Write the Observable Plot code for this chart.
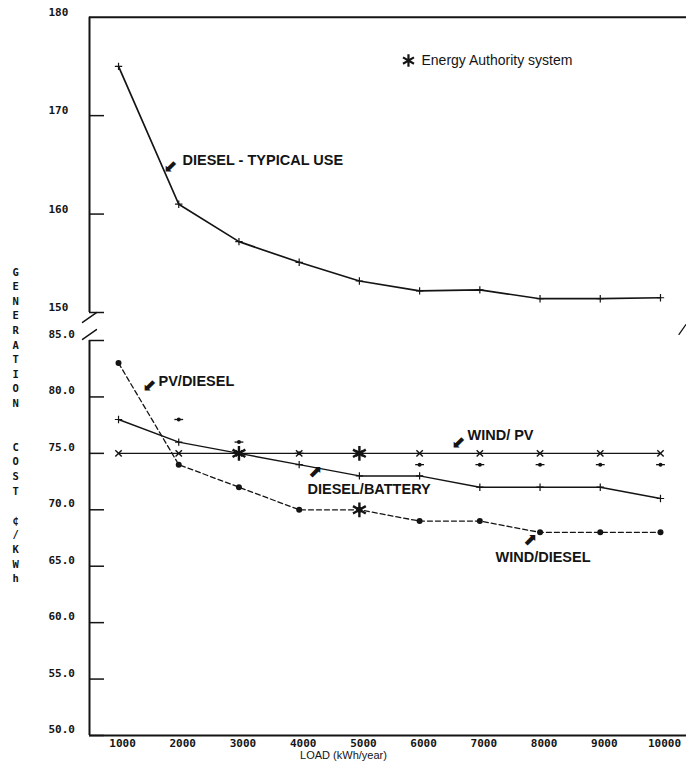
<!DOCTYPE html>
<html>
<head>
<meta charset="utf-8">
<script src="https://cdn.jsdelivr.net/npm/d3@7"></script>
<script src="https://cdn.jsdelivr.net/npm/@observablehq/plot@0.6"></script>
<style>
  html, body { margin: 0; padding: 0; background: #fff; }
  #chart svg { display: block; }
</style>
</head>
<body>
<div id="chart"></div>
<script>
// ---- data ----
const load = [1000, 2000, 3000, 4000, 5000, 6000, 7000, 8000, 9000, 10000];
const dieselTypical = [175, 161, 157.2, 155.1, 153.2, 152.2, 152.3, 151.4, 151.4, 151.5];
const windPV        = [75, 75, 75, 75, 75, 75, 75, 75, 75, 75];
const dieselBattery = [78, 76, 75, 74, 73, 73, 72, 72, 72, 71];
const windDiesel    = [83, 74, 72, 70, 70, 69, 69, 68, 68, 68];
const pvDiesel      = [null, 78, 76, 75, 75, 74, 74, 74, 74, 74];
const energyAuthorityLoad = [3000, 5000, 5000];
const energyAuthorityCost = [75, 75, 70];
const yTicksUpper = [150, 160, 170, 180];
const yTicksLower = [50, 55, 60, 65, 70, 75, 80, 85];
const xTicks = [1000, 2000, 3000, 4000, 5000, 6000, 7000, 8000, 9000, 10000];
const yTitleWords = ["GENERATION", "COST", "¢/KWh"];
const xTitle = "LOAD (kWh/year)";
const legendText = "Energy Authority system";
const seriesLabels = ["DIESEL - TYPICAL USE", "PV/DIESEL", "WIND/ PV", "DIESEL/BATTERY", "WIND/DIESEL"];

// ---- tables built from the arrays ----
const rows = (ys) => load.map((x, i) => ({x, y: ys[i]})).filter(d => d.y != null);
const ea = energyAuthorityLoad.map((x, i) => ({x, y: energyAuthorityCost[i]}));
// vertical stacked title: one letter per line, blank lines between words
const yTitleText = [...yTitleWords[0]].join("\n") + "\n\n\n" + [...yTitleWords[1]].join("\n") + "\n\n" + [...yTitleWords[2]].join("\n");

const xDomain = [518, 10432];
const ink = "#141414";
const tickFont = "DejaVu Sans Mono, monospace";
const labelFont = "Liberation Sans, Arial, sans-serif";

const lineShape = {draw(context, l) { context.moveTo(0, 0); context.lineTo(0, -l); }};
const dashShape = {draw(context, size) { const r = Math.sqrt(size / Math.PI); context.moveTo(-2.2 * r, 0); context.lineTo(2.2 * r, 0); }};

// annotation placement (label anchors in data units)
const labelPos = [
  {x: 2062, y: 165.5},
  {x: 1664, y: 81.4},
  {x: 6795, y: 76.6},
  {x: 4138, y: 71.8},
  {x: 7260, y: 65.8}
];
const labels = seriesLabels.map((text, i) => ({...labelPos[i], text}));
const arrows = [
  {x: 1863, y: 164.8, text: "⬋"},
  {x: 1514, y: 81.0, text: "⬋"},
  {x: 6645, y: 76.0, text: "⬋"},
  {x: 4271, y: 73.4, text: "⬈"},
  {x: 7841, y: 67.4, text: "⬈"}
];

const chart = Plot.plot({
  width: 686,
  height: 768,
  marginLeft: 89,
  marginRight: 0,
  marginTop: 0,
  marginBottom: 33,
  style: {background: "#fff", color: ink, overflow: "visible"},
  x: {domain: xDomain, axis: null},
  y: {type: "linear", domain: [50, 85, 150, 180], range: [735, 340, 312, 16.7], axis: null},
  marks: [
    // frame lines
    Plot.ruleY([180], {stroke: ink, strokeWidth: 2}),
    Plot.ruleY([50], {stroke: ink, strokeWidth: 2}),
    Plot.ruleX([{y1: 150, y2: 180}, {y1: 50, y2: 85.2}], {x: () => xDomain[0], y1: "y1", y2: "y2", stroke: ink, strokeWidth: 2}),
    // inward ticks
    Plot.ruleY([...yTicksUpper.slice(0, 3), ...yTicksLower], {y: d => d, insetRight: 686 - 89 - 15, stroke: ink, strokeWidth: 1.5}),
    // axis-break slashes
    Plot.vector([138.4, 98.9], {x: () => xDomain[0], y: d => d, length: 17, rotate: 55, anchor: "middle", shape: lineShape, stroke: ink, strokeWidth: 1.5}),
    Plot.vector([110.5], {x: () => 10365, y: d => d, length: 12, rotate: 35, anchor: "middle", shape: lineShape, stroke: ink, strokeWidth: 1.3}),
    // tick labels
    Plot.text(yTicksUpper, {y: d => d, text: d => String(d), frameAnchor: "left", textAnchor: "start", dx: -41, dy: -5, fontFamily: tickFont, fontWeight: "bold", fontSize: 11, fill: ink}),
    Plot.text(yTicksLower, {y: d => d, text: d => d.toFixed(1), frameAnchor: "left", textAnchor: "start", dx: -41, dy: -6, fontFamily: tickFont, fontWeight: "bold", fontSize: 11, fill: ink}),
    Plot.text(xTicks, {x: d => d, text: d => String(d), frameAnchor: "bottom", dy: 11, dx: 4, fontFamily: tickFont, fontWeight: "bold", fontSize: 11, fill: ink}),
    Plot.text([xTitle], {x: () => 4736, frameAnchor: "bottom", dy: 23, text: d => d, fontFamily: labelFont, fontSize: 11, fill: ink}),
    Plot.text([yTitleText], {y: () => 154.8, frameAnchor: "left", dx: -77, lineAnchor: "top", lineHeight: 1.39, text: d => d, fontFamily: tickFont, fontWeight: "bold", fontSize: 10.5, fill: ink}),
    // series
    Plot.line(rows(dieselTypical), {x: "x", y: "y", stroke: ink, strokeWidth: 1.7}),
    Plot.dot(rows(dieselTypical), {x: "x", y: "y", symbol: "plus", r: 2.5, stroke: ink, strokeWidth: 1.2}),
    Plot.line(rows(windPV), {x: "x", y: "y", stroke: ink, strokeWidth: 1.3}),
    Plot.dot(rows(windPV), {x: "x", y: "y", symbol: "times", r: 3, stroke: ink, strokeWidth: 1.4}),
    Plot.line(rows(dieselBattery), {x: "x", y: "y", stroke: ink, strokeWidth: 1.4}),
    Plot.dot(rows(dieselBattery), {x: "x", y: "y", symbol: "plus", r: 2.5, stroke: ink, strokeWidth: 1.2}),
    Plot.line(rows(windDiesel), {x: "x", y: "y", stroke: ink, strokeWidth: 1.3, strokeDasharray: "5,3"}),
    Plot.dot(rows(windDiesel), {x: "x", y: "y", r: 3, fill: ink}),
    Plot.dot(rows(pvDiesel), {x: "x", y: "y", r: 2, fill: ink}),
    Plot.dot(rows(pvDiesel), {x: "x", y: "y", symbol: dashShape, r: 2, stroke: ink, strokeWidth: 1.3}),
    // Energy Authority system
    Plot.dot(ea, {x: "x", y: "y", symbol: "asterisk", r: 7, stroke: ink, strokeWidth: 2.4}),
    Plot.dot([{x: 5815, y: 175.6}], {x: "x", y: "y", symbol: "asterisk", r: 6, stroke: ink, strokeWidth: 2.2}),
    Plot.text([legendText], {x: () => 6031, y: () => 175.6, text: d => d, textAnchor: "start", fontFamily: labelFont, fontSize: 14, fill: ink, ariaLabel: "legend-text"}),
    // annotations
    Plot.text(labels, {x: "x", y: "y", text: "text", textAnchor: "start", fontFamily: labelFont, fontWeight: "bold", fontSize: 14.5, fill: ink, ariaLabel: "series-labels"}),
    Plot.text(arrows, {x: "x", y: "y", text: "text", fontFamily: "DejaVu Sans, sans-serif", fontSize: 17, fill: ink})
  ]
});
d3.select(chart).selectAll('g[aria-label="series-labels"] text').attr("letter-spacing", "0.8px");
d3.select(chart).selectAll('g[aria-label="legend-text"] text').attr("letter-spacing", "0.35px");
document.getElementById("chart").append(chart);
</script>
</body>
</html>
